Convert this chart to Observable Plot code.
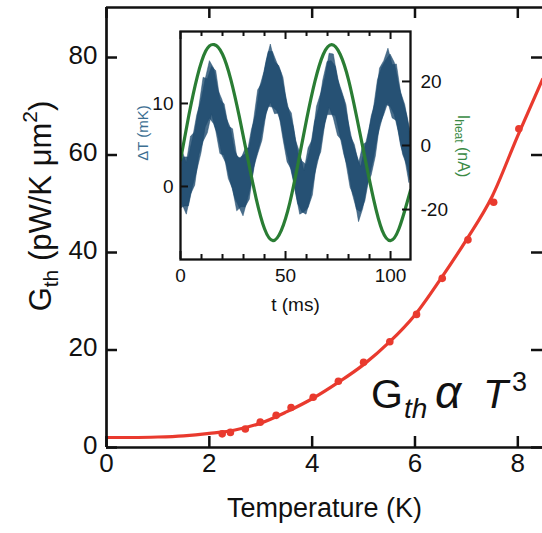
<!DOCTYPE html>
<html><head><meta charset="utf-8">
<script src="https://cdn.jsdelivr.net/npm/d3@7"></script>
<script src="https://cdn.jsdelivr.net/npm/@observablehq/plot@0.6"></script>
<style>
body{margin:0;background:#fff;}
#chart{position:relative;width:542px;height:533px;overflow:hidden;background:#fff;}
#chart svg{position:absolute;overflow:visible;}
</style></head><body><div id="chart"></div>
<script>
// ---------- main panel data ----------
const tempK = [2.25, 2.41, 2.70, 2.99, 3.30, 3.59, 4.02, 4.51, 5.00, 5.51, 6.03, 6.53, 7.03, 7.53, 8.02];
const gMeas = [2.8, 3.1, 3.8, 5.2, 6.6, 8.2, 10.3, 13.6, 17.5, 21.7, 27.3, 34.7, 42.6, 50.3, 65.4];
const fitT = [0, 0.5, 1, 1.5, 2, 2.5, 3, 3.5, 4, 4.5, 5, 5.5, 6, 6.5, 7, 7.5, 8, 8.48];
const fitG = [2.05, 2.05, 2.15, 2.4, 2.9, 3.6, 5.0, 7.3, 10.0, 13.3, 17.0, 21.6, 27.2, 34.6, 42.6, 51.5, 64.0, 75.5];
const xTicks = [0, 2, 4, 6, 8];
const yTicks = [0, 20, 40, 60, 80];
const xDomain = [0, 8.48];
const yDomain = [0, 90.26];

// ---------- inset data (noisy ΔT trace read as an upper/lower envelope) ----------
const tBandA = [0,2,4,6,8,10,12,14,16,18,20,22,24,26,28,30,32,34,36,38,40,42,44,46,48,50,52,54,56,58,60,62,64,66,68,70,72,74,76,78,80,82,84,86,88,90,92,94,96,98,100,102,104,106,108,109.5];
const dTHighA = [3.1,3.5,3.5,5.8,8.6,10.3,12.9,15.1,14.2,11.6,10.4,8.2,7.0,4.2,3.3,3.7,4.0,6.8,8.6,12.0,13.8,16.2,16.2,14.9,13.7,11.1,8.9,7.1,4.1,3.0,2.6,4.5,7.7,9.4,12.8,15.0,15.1,14.4,11.9,10.4,7.8,5.4,3.8,2.3,4.7,6.9,9.2,12.8,14.3,15.2,15.9,14.9,12.3,10.3,8.5,6.6];
const dTLowA = [-2.7,-2.4,-2.4,0.0,1.9,4.0,7.1,8.2,7.5,6.1,3.7,2.7,0.5,-1.4,-2.5,-3.6,-1.7,0.4,3.3,5.1,7.8,9.6,9.5,9.1,7.7,4.9,2.8,0.6,-2.1,-3.1,-3.4,-1.5,1.3,3.4,6.5,8.6,8.6,8.5,6.2,3.8,2.1,-0.9,-2.8,-3.1,-1.8,1.0,3.2,6.0,7.9,9.8,9.6,8.6,6.5,3.8,2.5,0.7];
const tBandB = [1,3,5,7,9,11,13,15,17,19,21,23,25,27,29,31,33,35,37,39,41,43,45,47,49,51,53,55,57,59,61,63,65,67,69,71,73,75,77,79,81,83,85,87,89,91,93,95,97,99,101,103,105,107,109];
const dTHighB = [4.2,2.8,6.0,6.5,9.6,13.1,12.9,14.4,13.9,10.4,9.9,7.2,6.9,3.6,3.3,4.5,4.6,7.9,11.6,12.4,15.1,17.1,15.0,14.5,13.1,9.6,8.8,5.5,4.0,1.8,4.6,5.6,9.6,11.2,13.1,16.0,15.9,12.9,11.4,9.8,6.1,5.0,2.7,5.0,5.3,8.4,10.2,14.2,15.1,16.6,14.6,14.7,11.3,9.8,7.0];
const dTLowB = [-2.2,-3.4,-1.0,0.1,3.8,5.4,6.4,8.7,6.7,3.9,3.7,0.9,-0.3,-3.0,-2.5,-2.5,-1.6,2.2,3.9,5.5,8.8,10.1,8.7,8.8,5.7,2.9,2.0,-0.8,-3.4,-3.1,-2.6,-1.1,2.9,4.1,7.6,9.5,8.2,6.1,5.5,2.8,-0.2,-1.3,-4.3,-2.7,0.1,1.3,3.6,7.4,8.6,10.1,8.2,7.9,4.9,3.3,0.4];
const tHeat = [0,4,8,12,16,20,24,28,32,36,40,44,48,52,56,60,64,68,72,76,80,84,88,92,96,100,104,108,109.5];
const iHeat = [-4.5,9.5,21.5,29.5,31.5,28.5,20.5,9.0,-4.0,-16.5,-26.0,-29.7,-26.5,-18.0,-5.5,8.0,20.0,28.5,31.5,28.5,20.5,8.5,-4.5,-17.0,-26.5,-29.7,-26.0,-17.5,-14.0];
const tMajor = [0, 50, 100];
const tMinor = [10, 20, 30, 40, 60, 70, 80, 90];
const dTTicks = [0, 10];
const iTicks = [-20, 0, 20];
const tDomain = [0, 109.5];
const dTDomain = [-8.8, 18.67];
const iDomain = [-35.6, 35.6];

const FONT = "'Liberation Sans', Arial, Helvetica, sans-serif";
const RED = "#e93a2e", INK = "#111";
const BLUE = "#1d4a6e", GREEN = "#2a7d34";

const fit = fitT.map((T, i) => ({T, G: fitG[i]}));
const meas = tempK.map((T, i) => ({T, G: gMeas[i]}));
const bandA = tBandA.map((t, i) => ({t, hi: dTHighA[i], lo: dTLowA[i]}));
const bandB = tBandB.map((t, i) => ({t, hi: dTHighB[i], lo: dTLowB[i]}));
const heat = tHeat.map((t, i) => ({t, I: iHeat[i]}));

// ---------- main panel ----------
const W = 542, H = 533, mL = 106, mT = 7, mB = 86, mR = 0;
const iw = W - mL - mR, ih = H - mT - mB, TK = 11;
const main = Plot.plot({
  width: W, height: H, marginLeft: mL, marginTop: mT, marginBottom: mB, marginRight: mR,
  x: {domain: xDomain, axis: null},
  y: {domain: yDomain, axis: null},
  style: {fontFamily: FONT, background: "transparent", color: INK},
  marks: [
    Plot.line(fit, {x: "T", y: "G", stroke: RED, strokeWidth: 3.2, curve: "monotone-x"}),
    Plot.dot(meas, {x: "T", y: "G", r: 3.8, fill: RED}),
    Plot.ruleX([xDomain[0]], {stroke: INK, strokeWidth: 2.7}),
    Plot.ruleY([yDomain[0]], {stroke: INK, strokeWidth: 2.7}),
    Plot.ruleY([yDomain[1]], {stroke: INK, strokeWidth: 2.7}),
    Plot.tickX(xTicks, {x: d => d, insetTop: ih - TK, stroke: INK, strokeWidth: 2.5}),
    Plot.tickX(xTicks, {x: d => d, insetBottom: ih - TK, stroke: INK, strokeWidth: 2.5}),
    Plot.tickY(yTicks, {y: d => d, insetRight: iw - TK, stroke: INK, strokeWidth: 2.5}),
    Plot.tickY(yTicks, {y: d => d, insetLeft: iw - TK, stroke: INK, strokeWidth: 2.5}),
    Plot.text(xTicks, {x: d => d, frameAnchor: "bottom", dy: 24, text: d => String(d), fontSize: 26, fill: INK}),
    Plot.text(yTicks, {y: d => d, frameAnchor: "left", dx: -9, dy: -2, textAnchor: "end", text: d => String(d), fontSize: 26, fill: INK}),
    Plot.text(["Temperature (K)"], {frameAnchor: "bottom", dy: 69, text: d => d, fontSize: 27, fill: INK})
  ]
});
main.style.left = "0px"; main.style.top = "0px";
document.getElementById("chart").append(main);

const ms = d3.select(main);
const yl = ms.append("text")
  .attr("transform", "translate(51,206) rotate(-90)")
  .attr("text-anchor", "middle").attr("font-family", FONT).attr("font-size", 31).attr("fill", INK);
yl.append("tspan").text("G");
yl.append("tspan").attr("font-size", 21).attr("dy", 7).text("th");
yl.append("tspan").attr("dy", -7).text(" (pW/K \u03bcm");
yl.append("tspan").attr("font-size", 21).attr("dy", -14).text("2");
yl.append("tspan").attr("dy", 14).text(")");

const eq = ms.append("text").attr("y", 408).attr("text-anchor", "start")
  .attr("font-family", FONT).attr("font-size", 41).attr("fill", INK);
eq.append("tspan").attr("x", 371).text("G");
eq.append("tspan").attr("x", 404).attr("font-size", 28).attr("font-style", "italic").attr("dy", 10).text("th");
eq.append("tspan").attr("x", 435).attr("font-size", 46).attr("font-style", "italic").attr("dy", -10).text("\u03b1");
eq.append("tspan").attr("x", 483).attr("font-style", "italic").text("T");
eq.append("tspan").attr("x", 512).attr("font-size", 27).attr("dy", -17).text("3");

// ---------- inset ----------
const IW = 350, IH = 300, iL = 50, iT = 11, iB = 61, iR = 70;
const iiw = IW - iL - iR, iih = IH - iT - iB;
const insetA = Plot.plot({
  width: IW, height: IH, marginLeft: iL, marginTop: iT, marginBottom: iB, marginRight: iR,
  x: {domain: tDomain, axis: null},
  y: {domain: dTDomain, axis: null},
  style: {fontFamily: FONT, background: "transparent", color: INK},
  marks: [
    Plot.areaY(bandA, {x: "t", y1: "lo", y2: "hi", fill: BLUE, fillOpacity: 0.8, stroke: BLUE, strokeOpacity: 0.6, strokeWidth: 0.8, clip: true}),
    Plot.areaY(bandB, {x: "t", y1: "lo", y2: "hi", fill: BLUE, fillOpacity: 0.8, stroke: BLUE, strokeOpacity: 0.6, strokeWidth: 0.8, clip: true}),
    Plot.tickY(dTTicks, {y: d => d, insetRight: iiw - 8, stroke: INK, strokeWidth: 2}),
    Plot.text(dTTicks, {y: d => d, frameAnchor: "left", dx: -7, textAnchor: "end", text: d => String(d), fontSize: 19, fill: INK}),
    Plot.tickX(tMajor, {x: d => d, insetTop: iih - 8, stroke: INK, strokeWidth: 2}),
    Plot.tickX(tMinor, {x: d => d, insetTop: iih - 5, stroke: INK, strokeWidth: 2}),
    Plot.tickX(tMajor, {x: d => d, insetBottom: iih - 8, stroke: INK, strokeWidth: 2}),
    Plot.tickX(tMinor, {x: d => d, insetBottom: iih - 5, stroke: INK, strokeWidth: 2}),
    Plot.text(tMajor, {x: d => d, frameAnchor: "bottom", dy: 22, text: d => String(d), fontSize: 19, fill: INK}),
    Plot.text(["t (ms)"], {frameAnchor: "bottom", dy: 51, text: d => d, fontSize: 19, fill: INK})
  ]
});
const insetB = Plot.plot({
  width: IW, height: IH, marginLeft: iL, marginTop: iT, marginBottom: iB, marginRight: iR,
  x: {domain: tDomain, axis: null},
  y: {domain: iDomain, axis: null},
  style: {fontFamily: FONT, background: "transparent", color: INK},
  marks: [
    Plot.line(heat, {x: "t", y: "I", stroke: GREEN, strokeWidth: 3.2, curve: "natural", clip: true}),
    Plot.tickY(iTicks, {y: d => d, insetLeft: iiw - 8, stroke: INK, strokeWidth: 2}),
    Plot.text(iTicks, {y: d => d, frameAnchor: "right", dx: 10, textAnchor: "start", text: d => String(d), fontSize: 19, fill: INK}),
    Plot.frame({stroke: INK, strokeWidth: 2.3})
  ]
});
for (const s of [insetA, insetB]) {
  s.style.left = "130px"; s.style.top = "20px";
  document.getElementById("chart").append(s);
}
const ia = d3.select(insetA);
ia.append("text").attr("transform", "translate(12,113) rotate(-90)")
  .attr("text-anchor", "middle").attr("dominant-baseline", "central")
  .attr("font-family", FONT).attr("font-size", 15).attr("fill", "#3d6f92")
  .text("\u0394T (mK)");
const ib = d3.select(insetB);
const il = ib.append("text").attr("transform", "translate(334,126) rotate(90)")
  .attr("text-anchor", "middle").attr("dominant-baseline", "central")
  .attr("font-family", FONT).attr("font-size", 16).attr("fill", "#3a8a45");
il.append("tspan").text("I");
il.append("tspan").attr("font-size", 12).attr("dy", 5).text("heat");
il.append("tspan").attr("dy", -5).text(" (nA)");
</script>
</body></html>
